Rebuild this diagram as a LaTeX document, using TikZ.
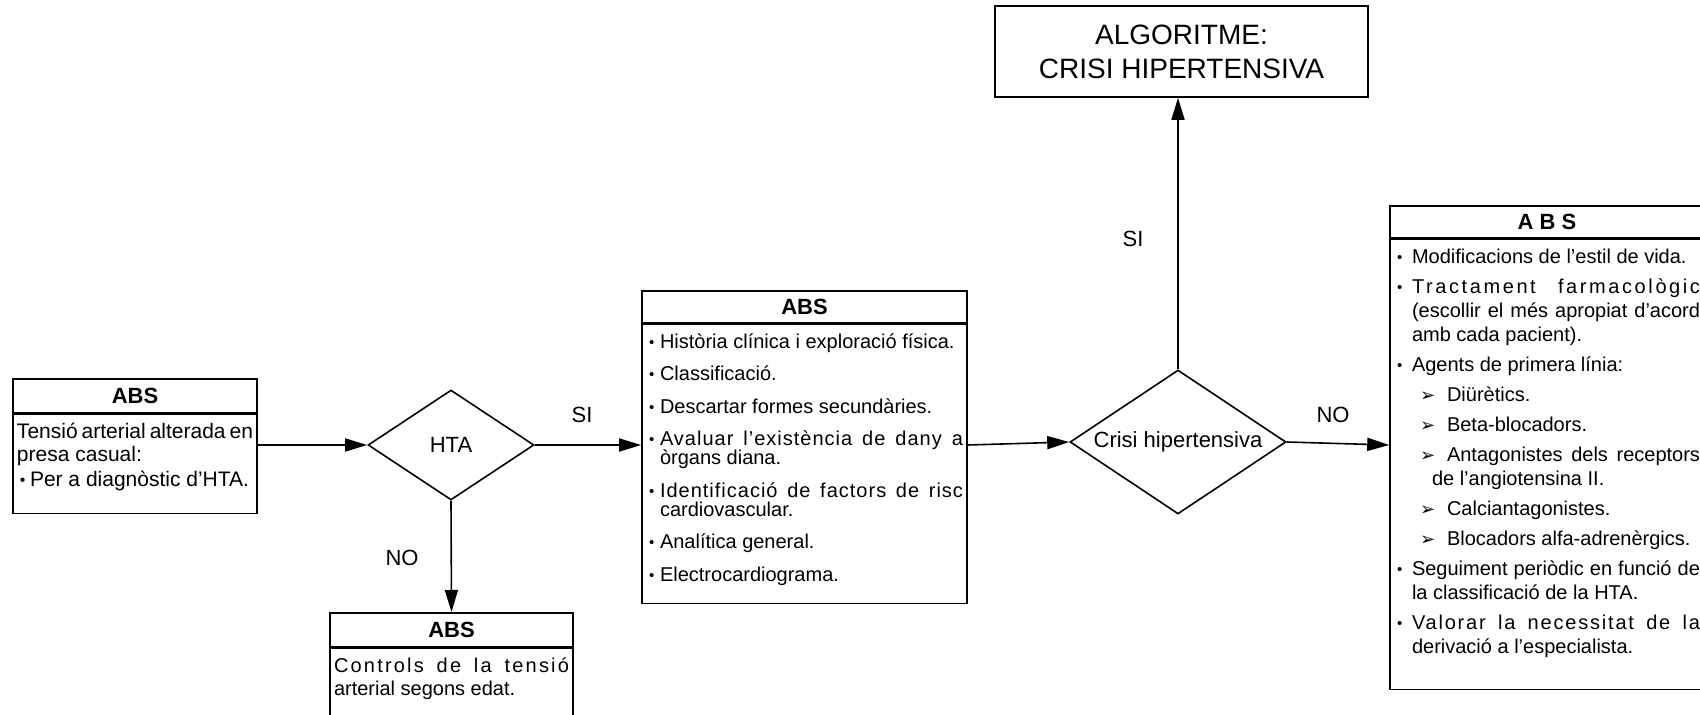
\documentclass[tikz,border=0pt]{standalone}
\usepackage{fontspec}
\setmainfont{Liberation Sans}
\newfontfamily\symfont{DejaVu Sans}
\usetikzlibrary{shapes.geometric,arrows.meta,positioning}

\newlength\bulind
\newlength\itmsep
\newcommand{\bitem}[1]{\ifvmode\addvspace{\itmsep}\fi\noindent\hangindent=\bulind\hangafter=1
\makebox[\bulind][l]{\hspace*{1.5pt}\raisebox{0.1ex}{\scalebox{0.75}{\textbullet}}}#1\par}
\newcommand{\sitem}[1]{\ifvmode\addvspace{\itmsep}\fi\noindent\hangindent=19pt\hangafter=1
\hspace*{13pt}\makebox[13.5pt][l]{\symfont\fontsize{9}{9}\selectfont ➢}#1\par}
\newcommand{\spread}[2]{{\addfontfeature{LetterSpace=#1}#2}}

\begin{document}
\begin{tikzpicture}[
x=0.5pt, y=-0.5pt,
head/.style={
draw,
line width=0.8pt,
anchor=north,
inner sep=0pt,
minimum height=17pt,
font=\bfseries\fontsize{11}{12}\selectfont
},
body/.style={
draw,
line width=0.8pt,
anchor=north,
align=justify,
inner xsep=2pt,
inner ysep=3pt,
text height=9pt,
execute at begin node={\hyphenpenalty=10000\exhyphenpenalty=10000\tolerance=9999\lineskiplimit=-10pt}
},
decision/.style={
draw,
diamond,
aspect=1.5,
line width=0.8pt,
inner sep=0pt,
font=\fontsize{11}{13}\selectfont
},
lbl/.style={
font=\fontsize{11}{13}\selectfont
},
arrow/.style={
-{Triangle[length=11pt,width=6.5pt]},
line width=0.8pt
}
]
\useasboundingbox (0,0) rectangle (1700,715);

% left column
\node[head, minimum width=122pt] (abs1h) at (135,378) {ABS};
\node[body, text width=118pt, text depth=34.5pt,
font=\fontsize{10.5}{11.5}\selectfont\setlength\bulind{6.5pt}\setlength\itmsep{1pt}]
(abs1b) at (abs1h.south)
{Tensió arterial alterada en presa casual:\par\bitem{Per a diagnòstic d’HTA.}};

\node[decision, minimum width=83pt, minimum height=55pt] (hta) at (451,445) {HTA};

\node[head, minimum width=121.5pt] (abs2h) at (451.5,612) {ABS};
\node[body, text width=117.5pt, text depth=30pt,
font=\fontsize{10}{11.5}\selectfont]
(abs2b) at (abs2h.south)
{\spread{11}{Controls de la tensió}\linebreak arterial segons edat.};

% middle
\node[head, minimum width=162.5pt, minimum height=16pt] (abs3h) at (804.5,290) {ABS};
\node[body, text width=158.5pt, text depth=124.5pt,
font=\fontsize{10}{9.5}\selectfont\setlength\bulind{7pt}\setlength\itmsep{6.75pt}]
(abs3b) at (abs3h.south)
{\bitem{Història clínica i exploració física.}%
\bitem{Classificació.}%
\bitem{Descartar formes secundàries.}%
\bitem{\spread{5}{Avaluar l’existència de dany a}\linebreak òrgans diana.}%
\bitem{\spread{5}{Identificació de factors de risc}\linebreak cardiovascular.}%
\bitem{Analítica general.}%
\bitem{Electrocardiograma.}};

\node[decision, minimum width=108pt, minimum height=72pt] (crisi) at (1178,442) {Crisi hipertensiva};

\node[draw, line width=0.8pt, align=center, minimum width=186.5pt, minimum height=45.5pt,
font=\fontsize{14}{17}\selectfont] (algo) at (1181.5,51.5)
{ALGORITME:\\CRISI HIPERTENSIVA};

% right column
\node[head, minimum width=157pt, minimum height=16pt] (abs4h) at (1547,205) {A B S};
\node[body, text width=153pt, text depth=210pt,
font=\fontsize{10}{12}\selectfont\setlength\bulind{9pt}\setlength\itmsep{3pt}]
(abs4b) at (abs4h.south)
{\bitem{Modificacions de l’estil de vida.}%
\bitem{\spread{13}{Tractament farmacològic}\linebreak (escollir el més apropiat d’acord\linebreak amb cada pacient).}%
\bitem{Agents de primera línia:}%
\sitem{Diürètics.}%
\sitem{Beta-blocadors.}%
\sitem{Antagonistes dels receptors\linebreak de l’angiotensina II.}%
\sitem{Calciantagonistes.}%
\sitem{Blocadors alfa-adrenèrgics.}%
\bitem{Seguiment periòdic en funció de\linebreak la classificació de la HTA.}%
\bitem{\spread{9}{Valorar la necessitat de la}\linebreak derivació a l’especialista.}};

% labels
\node[lbl] (si1) at (582,415) {SI};
\node[lbl] (no1) at (402,558) {NO};
\node[lbl] (si2) at (1133,239) {SI};
\node[lbl] (no2) at (1333,415) {NO};

% connectors
\draw[arrow] (abs1b.east |- hta.west) -- (hta.west);
\draw[arrow] (hta.east) -- (hta.east -| abs3b.west);
\draw[arrow] (hta.south) -- (abs2h.north);
\draw[arrow] (abs3b.east |- hta.east) -- (crisi.west);
\draw[arrow] (crisi.east) -- (abs4b.west |- hta.east);
\draw[arrow] (crisi.north) -- (crisi.north |- algo.south);

\end{tikzpicture}
\end{document}
